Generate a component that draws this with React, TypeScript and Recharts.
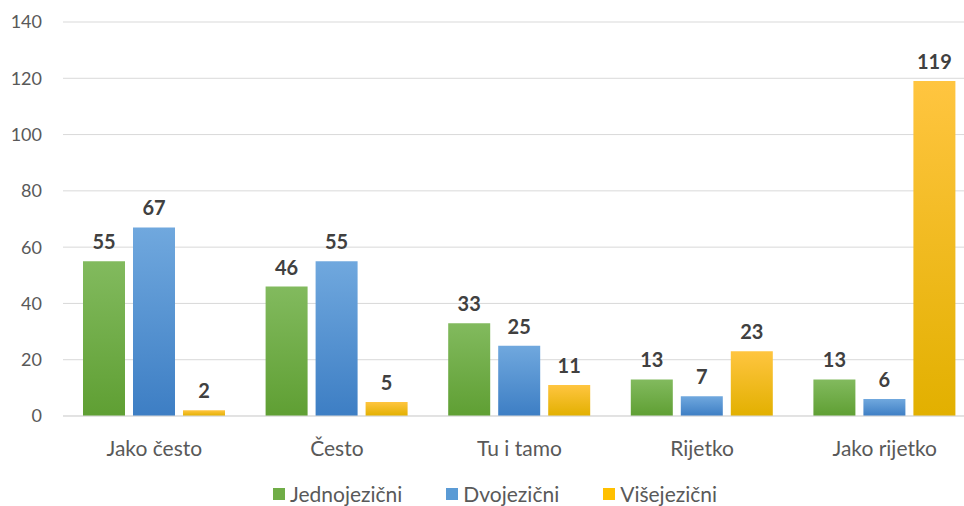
import { BarChart, Bar, XAxis, YAxis, CartesianGrid, LabelList } from "recharts";

// učestalost po skupinama ispitanika
const categories = ["Jako često", "Često", "Tu i tamo", "Rijetko", "Jako rijetko"];
const jednojezicni = [55, 46, 33, 13, 13];
const dvojezicni = [67, 55, 25, 7, 6];
const visejezicni = [2, 5, 11, 23, 119];
const yTicks = [0, 20, 40, 60, 80, 100, 120, 140];

const data = categories.map((name, i) => ({
  name,
  jedno: jednojezicni[i],
  dvo: dvojezicni[i],
  vise: visejezicni[i],
}));

const FONT = "Lato, 'Open Sans', sans-serif";

const series = [
  { key: "jedno", label: "Jednojezični", top: "#82ba5e", bottom: "#5f9f33", swatch: "#70ad47" },
  { key: "dvo", label: "Dvojezični", top: "#70a8de", bottom: "#3d7ec4", swatch: "#5b9bd5" },
  { key: "vise", label: "Višejezični", top: "#ffc540", bottom: "#e2b000", swatch: "#ffc000" },
];

function ChartLegend() {
  return (
    <div
      style={{
        position: "absolute",
        top: 481,
        left: 0,
        width: 990,
        display: "flex",
        justifyContent: "center",
        gap: 44,
        fontFamily: FONT,
        fontSize: 21,
        color: "#595959",
        lineHeight: "26px",
      }}
    >
      {series.map((s) => (
        <span key={s.key} style={{ display: "flex", alignItems: "center" }}>
          <span style={{ width: 12, height: 12, background: s.swatch, marginRight: 5, display: "inline-block" }} />
          {s.label}
        </span>
      ))}
    </div>
  );
}

export default function App() {
  return (
    <div style={{ position: "absolute", left: 0, top: 0, width: 964, height: 506, overflow: "hidden", background: "#fff" }}>
      <BarChart
        width={990}
        height={506}
        data={data}
        margin={{ top: 22, right: 14, bottom: 0, left: 0 }}
        barSize={42}
        barGap={8}
        style={{ fontFamily: FONT }}
      >
        <defs>
          {series.map((s) => (
            <linearGradient key={s.key} id={`grad-${s.key}`} x1="0" y1="0" x2="0" y2="1">
              <stop offset="0%" stopColor={s.top} />
              <stop offset="100%" stopColor={s.bottom} />
            </linearGradient>
          ))}
        </defs>
        <CartesianGrid vertical={false} stroke="#d9d9d9" />
        <XAxis
          dataKey="name"
          height={90}
          tickLine={false}
          axisLine={{ stroke: "#d9d9d9" }}
          tickMargin={19}
          tick={{ fill: "#595959", fontSize: 21 }}
        />
        <YAxis
          width={63}
          domain={[0, 140]}
          ticks={yTicks}
          tickLine={false}
          axisLine={false}
          tickMargin={15}
          tick={{ fill: "#595959", fontSize: 18 }}
        />
        {series.map((s) => (
          <Bar key={s.key} dataKey={s.key} name={s.label} fill={`url(#grad-${s.key})`} isAnimationActive={false}>
            <LabelList
              dataKey={s.key}
              position="top"
              offset={12}
              style={{ fill: "#404040", fontSize: 20, fontWeight: 700, fontFamily: FONT }}
            />
          </Bar>
        ))}
      </BarChart>
      <ChartLegend />
    </div>
  );
}
